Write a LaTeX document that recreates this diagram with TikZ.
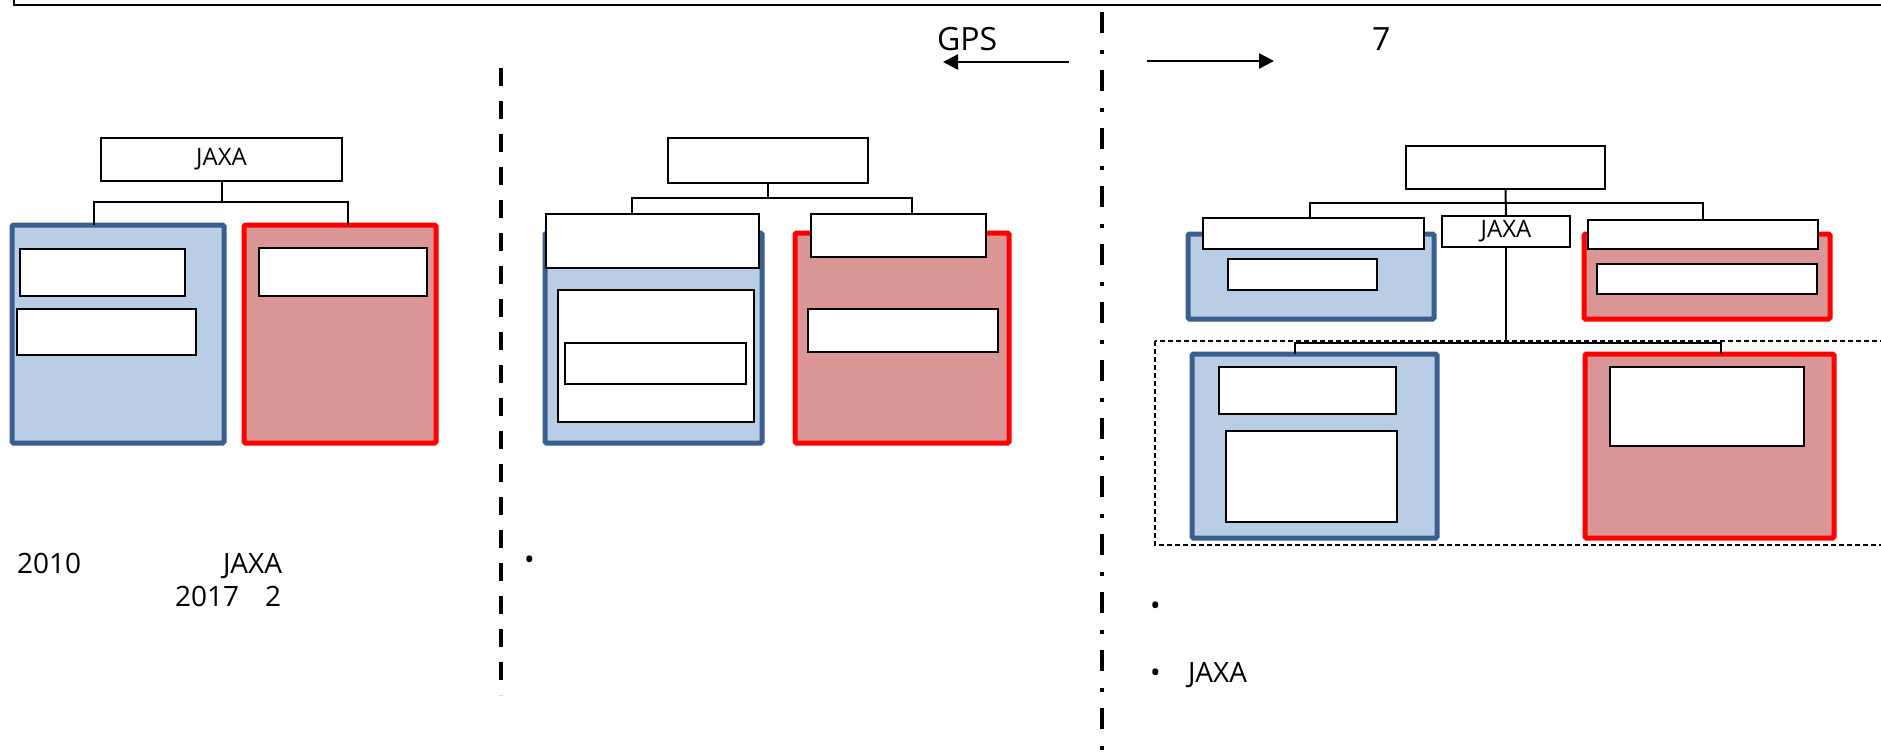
\documentclass[tikz,border=0pt]{standalone}
\usepackage{fontspec}
\setmainfont{Open Sans}
\usetikzlibrary{arrows.meta}
\definecolor{bluefill}{HTML}{B9CDE5}
\definecolor{blueedge}{HTML}{3A5F8E}
\definecolor{redfill}{HTML}{D99694}
\definecolor{rededge}{HTML}{FF0000}
\begin{document}
\begin{tikzpicture}[x=1pt,y=-1pt,
  card/.style={draw=black, fill=white, line width=1.5pt, inner sep=0pt, outer sep=0pt, anchor=north west, font=\fontsize{24}{28}\selectfont},
  bluepanel/.style={draw=blueedge, fill=bluefill, line width=5pt, rounded corners=1.5pt, inner sep=0pt, outer sep=0pt, anchor=north west},
  redpanel/.style={draw=rededge, fill=redfill, line width=5pt, rounded corners=1.5pt, inner sep=0pt, outer sep=0pt, anchor=north west},
  link/.style={draw=black, line width=2pt},
  label/.style={inner sep=0pt, outer sep=0pt, anchor=base west, font=\fontsize{28}{32}\selectfont},
  biglabel/.style={inner sep=0pt, outer sep=0pt, anchor=base west, font=\fontsize{32}{36}\selectfont},
  divider/.style={line width=3.5pt, draw=black},
  pointer/.style={line width=2.5pt, -{Triangle[length=15pt,width=15pt]}}
]
\useasboundingbox (0,0) rectangle (1881,755);
\fill[white] (0,0) rectangle (1881,755);

% title frame along the top edge
\draw[line width=2pt] (14,-30) rectangle (1920,5);

% ---------------- left panel ----------------
\node[bluepanel, minimum width=212pt, minimum height=218pt] (LB) at (12,225) {};
\node[redpanel, minimum width=192pt, minimum height=218pt] (LR) at (244,225) {};
\node[card, minimum width=241pt, minimum height=43pt] (LJ) at (101,138) {JAXA};
\node[card, minimum width=165pt, minimum height=47pt] (LB1) at (20,249) {};
\node[card, minimum width=179pt, minimum height=46pt] (LB2) at (17,309) {};
\node[card, minimum width=168pt, minimum height=48pt] (LR1) at (259,248) {};
\coordinate (lj) at (221.5,202);
\draw[link] (LJ.south) -- (lj);
\draw[link] ([xshift=-24pt]LB.north) |- (lj) -| ([xshift=8pt]LR.north);

\node[label] (t2010) at (17,573) {2010};
\node[label] (tjaxa1) at (223,573) {JAXA};
\node[label] (t2017) at (175,606) {2017};
\node[label] (t2) at (265,606) {2};

% dashed divider
\coordinate (d1a) at (501,68);
\coordinate (d1b) at (501,695);
\draw[divider, dash pattern=on 18pt off 15pt] (d1a) -- (d1b);

% ---------------- middle panel ----------------
\node[bluepanel, minimum width=217pt, minimum height=210pt] (MB) at (545,233) {};
\node[redpanel, minimum width=214pt, minimum height=210pt] (MR) at (795,233) {};
\node[card, minimum width=200pt, minimum height=45pt] (MT) at (668,138) {};
\node[card, minimum width=213pt, minimum height=54pt] (MBH) at (546,214) {};
\node[card, minimum width=196pt, minimum height=132pt] (MBI) at (558,290) {};
\node[card, minimum width=181pt, minimum height=41pt] (MBII) at (565,343) {};
\node[card, minimum width=175pt, minimum height=43pt] (MRH) at (811,214) {};
\node[card, minimum width=190pt, minimum height=43pt] (MRI) at (808,309) {};
\coordinate (mt) at (768,198);
\draw[link] (MT.south) -- (mt);
\draw[link] ([xshift=-20.5pt]MBH.north) |- (mt) -| ([xshift=13.5pt]MRH.north);

\node[label] (bul1) at (524,569) {•};

% arrows and heading texts
\node[biglabel] (gps) at (937,50) {GPS};
\node[biglabel] (seven) at (1372,50) {7};
\coordinate (la) at (1069,62);
\coordinate (lb) at (943,62);
\coordinate (ra) at (1147,61);
\coordinate (rb) at (1274,61);
\draw[pointer] (la) -- (lb);
\draw[pointer] (ra) -- (rb);

% dash-dot divider
\coordinate (d2a) at (1102,12);
\coordinate (d2b) at (1102,760);
\draw[divider, dash pattern=on 21pt off 17pt on 4pt off 16pt] (d2a) -- (d2b);

% ---------------- right panel ----------------
\node[bluepanel, minimum width=246pt, minimum height=85pt] (RB) at (1188,234) {};
\node[redpanel, minimum width=246pt, minimum height=85pt] (RR) at (1584,234) {};
\node[card, minimum width=199pt, minimum height=43pt] (RT) at (1406,146) {};
\node[card, minimum width=221pt, minimum height=31pt] (RBH) at (1203,218) {};
\node[card, minimum width=149pt, minimum height=31pt] (RBI) at (1228,259) {};
\node[card, minimum width=230pt, minimum height=29pt] (RRH) at (1588,220) {};
\node[card, minimum width=220pt, minimum height=30pt] (RRI) at (1597,264) {};
\node[card, minimum width=128pt, minimum height=31pt] (RJ) at (1442,216) {JAXA};
\coordinate (rt) at (1505.5,203);
\draw[link] (RT.south) -- (RJ.north);
\draw[link] ([xshift=-3.5pt]RBH.north) |- (rt) -| (RRH.north);

% grouped lower section
\draw[line width=1.5pt, dash pattern=on 5pt off 3pt] (1155,341) rectangle (1920,545);
\node[bluepanel, minimum width=245pt, minimum height=184pt] (RB2) at (1192,354) {};
\node[redpanel, minimum width=249pt, minimum height=184pt] (RR2) at (1585,354) {};
\node[card, minimum width=177pt, minimum height=47pt] (RB2a) at (1219,367) {};
\node[card, minimum width=171pt, minimum height=91pt] (RB2b) at (1226,431) {};
\node[card, minimum width=194pt, minimum height=79pt] (RR2a) at (1610,367) {};
\coordinate (rj) at (1506,343);
\draw[link] (RJ.south) -- (rj);
\draw[link] ([xshift=-20pt]RB2.north) |- (rj) -| ([xshift=11pt]RR2.north);

\node[label] (bul2) at (1150,615) {•};
\node[label] (bul3) at (1150,682) {•};
\node[label] (tjaxa2) at (1188,682) {JAXA};
\end{tikzpicture}
\end{document}
